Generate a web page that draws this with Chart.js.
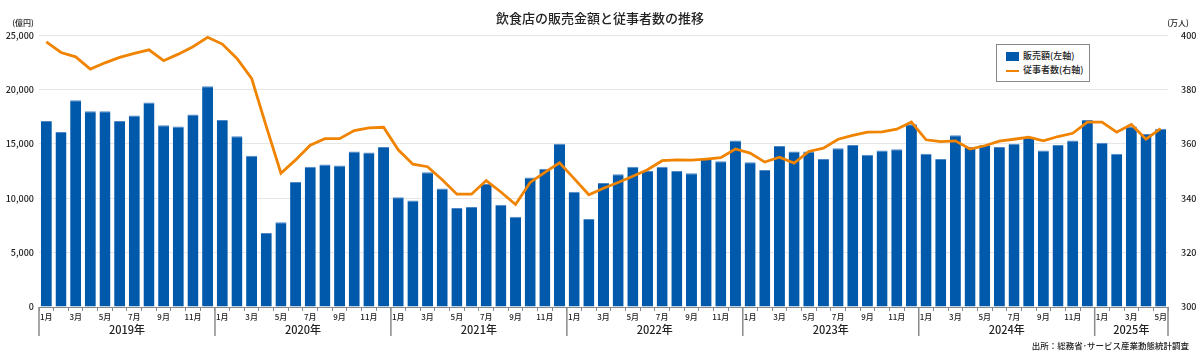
<!DOCTYPE html>
<html lang="ja">
<head>
<meta charset="utf-8">
<title>飲食店の販売金額と従事者数の推移</title>
<script src="https://cdn.jsdelivr.net/npm/chart.js@4.4.1/dist/chart.umd.min.js"></script>
<style>
  body { margin: 0; background: #fff; }
  #wrap { position: relative; width: 1200px; height: 362px; }
  #legend {
    position: absolute; left: 996px; top: 44px; width: 92px; height: 36px;
    border: 1px solid #888; background: #fff;
    font: 500 9px "Noto Sans CJK JP", sans-serif; color: #222;
  }
  #legend .row { position: absolute; left: 9px; height: 12px; line-height: 12px; }
  #legend .sw { display: inline-block; width: 13px; vertical-align: middle; margin-right: 4px; }
</style>
</head>
<body>
<div id="wrap">
  <canvas id="myChart" width="1200" height="362"></canvas>
  <div id="legend">
    <div class="row" style="top:5px"><span class="sw" style="height:9px;background:#0059ab"></span>販売額(左軸)</div>
    <div class="row" style="top:19px"><span class="sw" style="height:2px;background:#f08300"></span>従事者数(右軸)</div>
  </div>
</div>
<script>
const FONT = '"Noto Sans CJK JP", "Noto Sans", sans-serif';

// 年と各年の月数
const years = ['2019年', '2020年', '2021年', '2022年', '2023年', '2024年', '2025年'];
const monthCounts = [12, 12, 12, 12, 12, 12, 5];

// 販売額 (億円) 左軸
const sales = [
  17100, 16100, 19000, 18000, 18000, 17100, 17600, 18800, 16700, 16600, 17700, 20300,
  17200, 15700, 13900, 6800, 7800, 11500, 12900, 13100, 13000, 14300, 14200, 14700,
  10100, 9800, 12400, 10900, 9100, 9200, 11300, 9400, 8300, 11900, 12700, 15000,
  10600, 8100, 11400, 12200, 12900, 12500, 12900, 12500, 12300, 13600, 13400, 15300,
  13300, 12600, 14800, 14300, 14300, 13600, 14600, 14900, 14000, 14400, 14500, 16800,
  14100, 13600, 15800, 14700, 14900, 14700, 15000, 15600, 14400, 14900, 15300, 17200,
  15100, 14100, 16600, 15900, 16400
];

// 従事者数 (万人) 右軸
const workers = [
  397.5, 393.6, 392.0, 387.5, 389.8, 391.8, 393.3, 394.6, 390.6, 393.0, 395.7, 399.2,
  396.7, 391.4, 384.1, 366.4, 349.2, 354.1, 359.5, 361.9, 361.9, 364.9, 365.9, 366.1,
  357.8, 352.5, 351.6, 346.8, 341.5, 341.5, 346.5, 342.3, 337.7, 345.8, 349.5, 353.0,
  347.2, 341.3, 343.7, 345.8, 348.1, 350.5, 353.8, 354.1, 354.0, 354.4, 354.9, 358.1,
  356.6, 353.3, 355.1, 352.9, 357.2, 358.4, 361.7, 363.1, 364.3, 364.4, 365.4, 368.0,
  361.5, 360.8, 361.1, 358.1, 359.3, 361.0, 361.7, 362.5, 361.1, 362.7, 363.9, 368.0,
  368.0, 364.3, 367.1, 361.7, 365.6
];

// ラベル作成 (月)
const labels = [];
years.forEach((y, k) => {
  for (let m = 1; m <= monthCounts[k]; m++) labels.push(m + '月');
});

// 年ラベルと区切り線、単位、出所
const yearAxisPlugin = {
  id: 'yearAxis',
  afterDraw(chart) {
    const { ctx, chartArea } = chart;
    const x = chart.scales.x;
    const w = x.width / labels.length;
    const bottom = chartArea.bottom;
    ctx.save();
    ctx.strokeStyle = '#8a8a8a';
    ctx.lineWidth = 1.5;
    ctx.fillStyle = '#222';
    ctx.font = '500 11px ' + FONT;
    ctx.textAlign = 'center';
    ctx.textBaseline = 'middle';
    let start = 0;
    years.forEach((y, k) => {
      const x0 = x.getPixelForValue(start) - w / 2;
      const x1 = x.getPixelForValue(start + monthCounts[k] - 1) + w / 2;
      ctx.beginPath();
      ctx.moveTo(x0, bottom);
      ctx.lineTo(x0, bottom + 29);
      ctx.stroke();
      ctx.fillText(y, (x0 + x1) / 2, bottom + 23);
      start += monthCounts[k];
    });
    ctx.beginPath();
    ctx.moveTo(chartArea.right, bottom);
    ctx.lineTo(chartArea.right, bottom + 29);
    ctx.stroke();

    // 単位
    ctx.font = '500 8px ' + FONT;
    ctx.fillText('(億円)', 23, 23);
    ctx.fillText('(万人)', 1178, 23);

    // 出所
    ctx.font = '500 8.5px ' + FONT;
    ctx.textAlign = 'right';
    ctx.fillText('出所：総務省･サービス産業動態統計調査', 1189, 346);
    ctx.restore();
  }
};

new Chart('myChart', {
  type: 'bar',
  data: {
    labels: labels,
    datasets: [
      {
        type: 'line',
        label: '従事者数(右軸)',
        data: workers,
        yAxisID: 'y1',
        borderColor: '#f08300',
        borderWidth: 2.8,
        pointRadius: 0,
        tension: 0,
        order: 0
      },
      {
        type: 'bar',
        label: '販売額(左軸)',
        data: sales,
        yAxisID: 'y',
        backgroundColor: '#0059ab',
        borderColor: '#4f86c6',
        borderWidth: { top: 1, left: 0, right: 0, bottom: 0 },
        categoryPercentage: 1,
        barPercentage: 0.75,
        order: 1
      }
    ]
  },
  options: {
    responsive: false,
    animation: false,
    devicePixelRatio: 1,
    layout: { padding: 0 },
    plugins: {
      legend: { display: false },
      tooltip: { enabled: false },
      title: {
        display: true,
        text: '飲食店の販売金額と従事者数の推移',
        color: '#222',
        font: { family: FONT, size: 13, weight: '500' },
        padding: { top: 10, bottom: 9.5 }
      }
    },
    scales: {
      x: {
        grid: { offset: true, drawOnChartArea: false, tickLength: 4, color: '#8a8a8a' },
        border: { color: '#8a8a8a' },
        ticks: {
          autoSkip: false,
          maxRotation: 0,
          padding: 1,
          color: '#222',
          font: { family: FONT, size: 8, weight: '500' },
          callback: (v, i) => (i % 2 === 0 ? labels[i] : '')
        },
        afterFit: s => { s.height = 55; }
      },
      y: {
        position: 'left',
        min: 0,
        max: 25000,
        ticks: {
          stepSize: 5000,
          padding: 5,
          color: '#222',
          font: { family: FONT, size: 9, weight: '500' },
          callback: v => v.toLocaleString('en-US')
        },
        grid: { color: '#e6e6e6', drawTicks: false },
        border: { display: false },
        afterFit: s => { s.width = 39; }
      },
      y1: {
        position: 'right',
        min: 300,
        max: 400,
        ticks: {
          stepSize: 20,
          padding: 5,
          color: '#222',
          font: { family: FONT, size: 9, weight: '500' }
        },
        grid: { display: false },
        border: { display: false },
        afterFit: s => { s.width = 32; }
      }
    }
  },
  plugins: [yearAxisPlugin]
});
</script>
</body>
</html>
